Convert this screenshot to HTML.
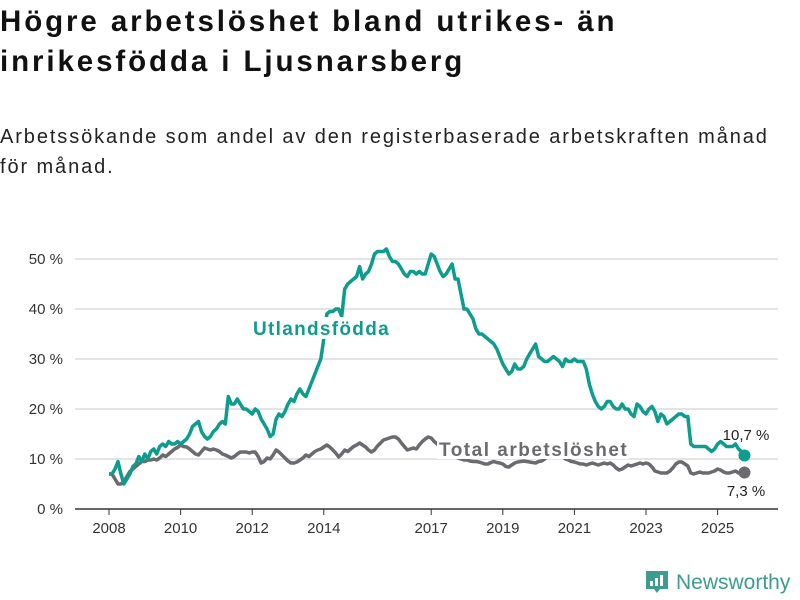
<!DOCTYPE html>
<html><head><meta charset="utf-8">
<style>
body{margin:0;background:#fff;font-family:"Liberation Sans",sans-serif;}
#wrap{position:relative;width:800px;height:600px;overflow:hidden;}
h1{position:absolute;left:0;top:2px;margin:0;font-size:29.5px;line-height:40px;font-weight:bold;color:#111;width:800px;letter-spacing:2.9px;white-space:nowrap;}
#sub{position:absolute;left:0;top:122px;font-size:20px;line-height:30px;color:#222;width:800px;letter-spacing:1.9px;white-space:nowrap;}
svg{position:absolute;left:0;top:0;}
</style></head><body>
<div id="wrap">
<h1>Högre arbetslöshet bland utrikes- än<br>inrikesfödda i Ljusnarsberg</h1>
<div id="sub">Arbetssökande som andel av den registerbaserade arbetskraften månad<br>för månad.</div>
<svg id="chart" width="800" height="600"></svg>
</div>
<script>
const yTicks=[0,10,20,30,40,50];
const xTickYears=[2008,2010,2012,2014,2017,2019,2021,2023,2025];
const startYear=2008;
const utlandsfodda=[
7,7,8,9.5,7,5,6,7,8.5,9,10.5,9.5,
11,10,11.5,12,11,12.5,13,12.5,13.5,13,13,13.5,
13,13.5,14,15,16.5,17,17.5,15.5,14.5,14,14.5,15.5,
16,17,17.5,17,22.5,21,21,22,21,20,20,19.5,
19,20,19.5,18,17,16,14.5,15,18,19,18.5,19.5,
21,22,21.5,23,24,23,22.5,24,25.5,27,28.5,30,
34,39,39.5,39.5,40,40,38.5,44,45,45.5,46,46.5,
48.5,46,47,47.5,49,51,51.5,51.5,51.5,52,50.5,49.5,
49.5,49,48,47,46.5,47.5,47.5,47,47.5,47,47,49,
51,50.5,49,47.5,46.5,47,48,49,46,46,43,40,
40,39,38,36,35,35,34.5,34,33.5,33,32,30.5,
29,28,27,27.5,29,28,28,28.5,30,31,32,33,
30.5,30,29.5,29.5,30,30.5,30,29.5,28.5,30,29.5,29.5,
30,29.5,29.5,29.5,28,25,23,21.5,20.5,20,20.5,21.5,
21.5,20.5,20,20,21,20,20,19,18.5,21,20.5,19.5,
19,20,20.5,19.5,17.5,19,18.5,17,17.5,18,18.5,19,
19,18.5,18.5,13,12.5,12.5,12.5,12.5,12.5,12,11.5,12,
13,13.5,13,12.5,12.5,12.5,13,12,11.5,10.7];
const total=[
7,7,6,5,5,5.5,6.5,7.5,8,8.5,9,9.5,
9.5,9.8,9.8,10,9.8,10.2,10.8,10.5,11,11.5,12,12.3,
12.8,12.5,12.4,12,11.5,11,10.8,11.5,12.2,12,11.8,12,
11.8,11.5,11,10.8,10.5,10.2,10.5,11,11.4,11.4,11.4,11.2,
11.4,11.4,10.5,9.2,9.5,10.2,10,10.8,11.8,11.4,10.8,10.2,
9.6,9.2,9.2,9.4,9.8,10.2,10.8,10.5,11,11.5,11.8,12,
12.4,12.8,12.4,11.8,11.2,10.4,11,11.8,11.5,12,12.5,12.8,
13.2,12.8,12.4,11.8,11.4,11.8,12.6,13.2,13.8,14,14.2,14.4,
14.4,14,13.2,12.5,11.8,12,12.2,12,12.8,13.5,14,14.4,
14.2,13.5,13,12.5,12,11.5,11,10.8,10.5,10.2,10,9.8,
9.8,9.6,9.5,9.5,9.4,9.2,9,9,9.3,9.5,9.3,9.2,
9,8.5,8.4,8.8,9.2,9.4,9.5,9.6,9.5,9.4,9.3,9.2,
9.5,9.6,10,10.5,11,11.5,11.5,11,10.5,10,9.8,9.5,
9.4,9.2,9,9,8.8,9,9.2,9,8.8,9,9.2,9,
9.2,8.8,8.2,7.8,8,8.4,8.8,8.6,8.8,9,9.2,9,
9.2,9,8.4,7.6,7.4,7.2,7.2,7.2,7.6,8.2,9,9.4,
9.4,9,8.6,7.2,7,7.2,7.4,7.2,7.2,7.2,7.4,7.6,
8,7.8,7.4,7.2,7.2,7.4,7.6,7.2,7.3,7.3];
const endLabelUtl="10,7 %";
const endLabelTot="7,3 %";

const NS="http://www.w3.org/2000/svg";
const svg=document.getElementById('chart');
const xOfMonth=i=>109+35.8*(i/12);
const xOfYear=y=>109+35.8*(y-startYear);
const yOf=v=>509-5*v;
function mk(tag,attrs,parent){const e=document.createElementNS(NS,tag);for(const k in attrs)e.setAttribute(k,attrs[k]);(parent||svg).appendChild(e);return e;}

yTicks.forEach(t=>{
  const g=mk('line',{x1:75,x2:778,y1:yOf(t),y2:yOf(t),stroke:t===0?'#333':'#dcdcdc','stroke-width':1.5});
  
  
  const tx=mk('text',{x:63,y:yOf(t)+5,'text-anchor':'end','font-size':15,fill:'#333'});
  tx.textContent=t+' %';
  
  
});
xTickYears.forEach(y=>{
  const x=xOfYear(y);
  const tk=mk('line',{x1:x,x2:x,y1:509,y2:515,stroke:'#333','stroke-width':1});
  
  
  const tx=mk('text',{x:x,y:533,'text-anchor':'middle','font-size':15,fill:'#333'});
  tx.textContent=y;
  
  
});
function path(arr){return arr.map((v,i)=>(i?'L':'M')+xOfMonth(i).toFixed(1)+','+yOf(v).toFixed(1)).join('');}
const pt=mk('path',{d:path(total),fill:'none',stroke:'#6b6a6f','stroke-width':3.5,'stroke-linejoin':'round'});


const pu=mk('path',{d:path(utlandsfodda),fill:'none',stroke:'#0e9c8e','stroke-width':3.5,'stroke-linejoin':'round'});



const r1=mk('rect',{x:250,y:317,width:145,height:22,fill:'#fff'});


const l1=mk('text',{x:253,y:335,'font-size':19,'font-weight':'bold',fill:'#0e9c8e','letter-spacing':1.3});
l1.textContent='Utlandsfödda';


const r2=mk('rect',{x:437,y:437,width:192,height:22,fill:'#fff'});


const l2=mk('text',{x:439,y:456,'font-size':19,'font-weight':'bold',fill:'#6b6a6f','letter-spacing':1.5});
l2.textContent='Total arbetslöshet';



const n=utlandsfodda.length-1;
const d1=mk('circle',{cx:xOfMonth(n),cy:yOf(utlandsfodda[n]),r:6,fill:'#0e9c8e'});


const m=total.length-1;
const d2=mk('circle',{cx:xOfMonth(m),cy:yOf(total[m]),r:6,fill:'#6b6a6f'});


const e1=mk('text',{x:746,y:440,'text-anchor':'middle','font-size':15,fill:'#222'});
e1.textContent=endLabelUtl;


const e2=mk('text',{x:746,y:496,'text-anchor':'middle','font-size':15,fill:'#222'});
e2.textContent=endLabelTot;



const lg=mk('g',{});


mk('path',{d:'M646,571 h22 v18 h-8 l-3,4 l-3,-4 h-8 z',fill:'#3d9b90'},lg);
mk('rect',{x:650,y:581,width:3,height:5,fill:'#fff'},lg);
mk('rect',{x:655,y:578,width:3,height:8,fill:'#fff'},lg);
mk('rect',{x:660,y:575,width:3,height:11,fill:'#fff'},lg);
const lt=mk('text',{x:676,y:589,'font-size':21,fill:'#3d9b90'},lg);
lt.textContent='Newsworthy';


</script>
</body></html>
